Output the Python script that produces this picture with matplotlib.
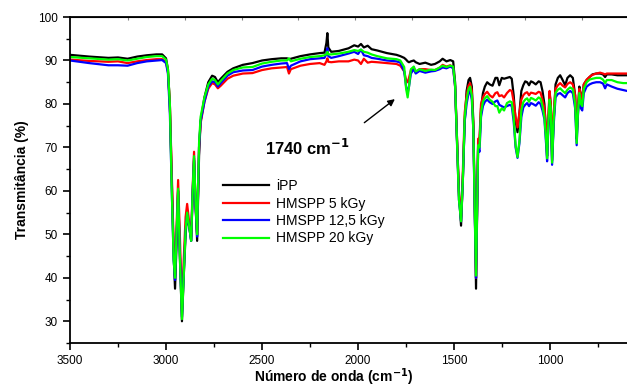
import matplotlib.pyplot as plt

plt.rcParams['font.family'] = ['Liberation Sans', 'DejaVu Sans']

# wavenumber (cm-1) and transmittance (%)
wavenumber = [3500, 3400, 3300, 3250, 3200, 3150, 3100, 3050, 3020, 3000,
              2990, 2980, 2970, 2960, 2953, 2945, 2937, 2928, 2917, 2908,
              2898, 2890, 2880, 2869, 2862, 2854, 2846, 2838, 2828, 2820,
              2800, 2780, 2760, 2745, 2730, 2715, 2680, 2650, 2600, 2550,
              2500, 2450, 2400, 2370, 2360, 2350, 2300, 2250, 2200, 2175,
              2165, 2160, 2155, 2140, 2100, 2050, 2020, 2000, 1985, 1970,
              1950, 1930, 1900, 1850, 1800, 1780, 1760, 1750, 1742, 1735,
              1725, 1710, 1700, 1680, 1650, 1620, 1600, 1575, 1560, 1540,
              1520, 1505, 1495, 1485, 1475, 1464, 1455, 1445, 1435, 1425,
              1417, 1408, 1400, 1392, 1386, 1380, 1375, 1368, 1360, 1350,
              1340, 1328, 1315, 1300, 1285, 1275, 1265, 1252, 1240, 1225,
              1210, 1200, 1190, 1180, 1170, 1160, 1150, 1140, 1130, 1120,
              1110, 1100, 1090, 1075, 1060, 1050, 1040, 1030, 1020, 1016,
              1010, 1003, 997, 990, 982, 972, 960, 948, 935, 922,
              910, 896, 882, 870, 862, 856, 848, 840, 833, 825,
              810, 795, 780, 760, 740, 725, 714, 705, 680, 650,
              620, 600]

ipp = [91.3, 90.9, 90.6, 90.7, 90.4, 90.9, 91.2, 91.4, 91.4, 90.5,
       88.0, 80.0, 62.0, 45.0, 37.5, 48.0, 60.0, 45.0, 30.0, 40.0,
       50.0, 54.5, 52.0, 48.5, 58.0, 67.0, 58.0, 48.5, 68.0, 76.0,
       81.5, 85.0, 86.5, 86.2, 85.0, 85.8, 87.4, 88.2, 89.0, 89.4,
       90.0, 90.3, 90.5, 90.5, 90.3, 90.4, 91.0, 91.4, 91.7, 91.8,
       94.0, 96.3, 93.0, 92.0, 92.2, 92.8, 93.5, 93.2, 93.8, 93.0,
       93.4, 92.6, 92.3, 91.7, 91.3, 91.0, 90.6, 90.2, 89.8, 89.6,
       89.8, 90.0, 89.6, 89.2, 89.5, 89.0, 89.2, 89.8, 90.4, 89.8,
       90.1, 89.8, 85.0, 72.0, 60.0, 52.0, 62.0, 76.0, 83.0, 85.5,
       86.0, 84.0, 76.0, 55.0, 37.5, 55.0, 71.0, 71.0, 79.0, 82.5,
       84.0, 85.0, 84.5, 84.2, 86.0, 86.0, 84.3, 86.0, 85.8, 86.0,
       86.2, 85.8, 82.0, 76.0, 73.5, 78.0, 83.0, 84.3, 85.2, 85.0,
       84.3, 85.2, 85.0, 84.5, 85.2, 85.0, 83.0, 80.0, 72.0, 68.0,
       75.0, 82.5, 80.0, 67.0, 76.0, 84.5, 86.0, 86.6, 85.5, 84.3,
       86.0, 86.6, 86.0, 82.0, 72.0, 78.0, 84.0, 82.0, 81.0, 84.5,
       85.5, 86.2, 86.8, 87.0, 87.0, 86.8, 86.2, 86.8, 86.8, 86.6,
       86.6, 86.6]

hmspp_5 = [90.2, 89.9, 89.7, 89.8, 89.4, 89.8, 90.1, 90.3, 90.3, 89.6,
           87.5, 80.0, 64.0, 47.0, 41.0, 52.0, 62.5, 50.0, 33.0, 44.0,
           54.0, 57.0, 53.0, 49.5, 60.0, 69.0, 56.0, 50.0, 70.0, 75.5,
           80.5, 83.5, 84.8, 84.5, 83.6, 84.2, 85.8, 86.5, 87.0, 87.1,
           87.8, 88.2, 88.4, 88.5, 87.0, 88.0, 88.8, 89.2, 89.4, 89.0,
           89.8, 90.5, 89.7, 89.6, 89.8, 89.8, 90.2, 90.0, 89.2, 90.4,
           89.5, 89.7, 89.6, 89.4, 89.2, 88.8, 87.5, 85.5, 85.0, 86.0,
           87.8, 88.3, 87.3, 88.0, 88.0, 87.8, 87.8, 88.3, 89.0, 88.6,
           88.9, 88.4, 84.0, 72.0, 59.0, 54.0, 64.0, 78.0, 82.0, 84.2,
           84.8, 83.0, 75.0, 55.0, 40.0, 58.0, 72.0, 72.0, 80.0, 81.5,
           82.3, 82.8, 82.0, 81.5, 82.5, 82.7, 81.8, 82.0, 81.5, 82.5,
           83.2, 83.0, 80.5, 77.0, 74.6, 78.0, 81.0, 82.0, 82.5, 82.7,
           82.0, 82.6, 82.5, 82.3, 82.8, 82.6, 81.0, 79.0, 74.0, 70.0,
           77.0, 83.0, 80.0, 69.0, 78.0, 83.5, 84.3, 84.8, 84.2, 83.8,
           84.6, 85.0, 84.5, 82.0, 73.0, 79.0, 83.5, 82.0, 81.0, 84.5,
           85.6, 86.2, 86.7, 87.0, 87.2, 87.0, 86.8, 87.0, 87.0, 87.0,
           87.0, 87.0]

hmspp_12_5 = [90.0, 89.4, 88.9, 88.9, 88.8, 89.4, 89.8, 90.0, 90.1, 89.4,
              87.0, 78.0, 60.0, 44.0, 39.5, 50.0, 60.0, 46.0, 31.0, 41.0,
              51.0, 54.5, 52.0, 48.5, 59.0, 67.5, 56.0, 49.5, 70.0, 76.0,
              80.5, 84.0, 85.2, 85.0, 84.0, 84.8, 86.5, 87.3, 87.7, 87.8,
              88.6, 89.0, 89.3, 89.4, 88.0, 88.8, 89.8, 90.3, 90.5, 90.6,
              91.5, 92.8, 91.0, 90.6, 91.0, 91.6, 92.0, 91.5, 92.5, 91.2,
              91.0, 90.6, 90.4, 90.0, 89.8, 89.5, 87.5, 84.0, 82.5, 84.0,
              87.0, 88.0, 87.0, 87.6, 87.2, 87.5, 87.6, 88.0, 88.4, 88.2,
              88.6, 88.2, 84.0, 71.0, 58.0, 53.0, 62.0, 76.0, 80.0, 82.5,
              83.0, 81.0, 74.0, 53.0, 40.0, 57.0, 70.0, 69.0, 77.0, 79.5,
              80.5, 81.0, 80.4, 80.0, 80.6, 80.8, 79.8, 79.5, 79.2, 79.5,
              79.8, 79.5, 76.0, 70.0, 67.6, 71.0, 77.0, 79.2, 79.8, 80.2,
              79.5, 80.2, 80.0, 79.6, 80.4, 80.0, 78.5, 76.5, 70.0, 66.8,
              74.0, 80.0, 78.0, 66.0, 75.0, 81.5, 82.3, 82.5, 82.0, 81.5,
              82.5, 83.0, 82.5, 79.0, 70.5, 77.0, 82.0, 79.0, 78.5, 82.5,
              84.0, 84.5, 84.8, 85.0, 85.0, 84.7, 83.6, 84.5, 84.0, 83.5,
              83.2, 83.0]

hmspp_20 = [90.8, 90.5, 90.2, 90.3, 90.0, 90.4, 90.8, 91.0, 91.0, 90.2,
            88.0, 80.0, 60.0, 44.0, 40.0, 50.0, 60.5, 45.0, 30.5, 40.0,
            51.0, 55.0, 52.0, 48.5, 59.0, 68.0, 57.0, 50.0, 71.0, 77.0,
            81.5, 84.5, 85.8, 85.5, 84.5, 85.3, 87.0, 87.8, 88.4, 88.5,
            89.3, 89.7, 90.0, 90.0, 90.5, 89.8, 90.4, 90.8, 91.0, 91.2,
            91.5, 92.0, 91.4, 91.4, 91.6, 92.0, 92.4, 92.2, 92.5, 92.0,
            91.8, 91.4, 91.0, 90.5, 90.3, 90.0, 88.5, 83.5, 81.5, 84.0,
            88.0, 88.6, 87.5, 88.0, 87.6, 87.9, 87.8, 88.4, 88.8, 88.5,
            88.8, 88.6, 84.5, 71.5, 58.0, 53.0, 62.0, 77.0, 81.0, 83.4,
            84.0, 82.0, 74.0, 54.0, 40.5, 57.0, 70.5, 70.0, 78.0, 80.5,
            81.3, 81.8, 81.0, 80.5, 79.5, 79.5, 78.0, 79.0, 78.5, 80.2,
            80.6, 80.4, 77.0, 70.5, 67.8, 71.5, 78.5, 80.4, 81.0, 81.3,
            80.5, 81.4, 81.2, 80.8, 81.5, 81.2, 79.5, 77.0, 71.0, 67.5,
            75.0, 81.0, 79.0, 66.5, 76.0, 82.5, 83.3, 83.6, 83.0, 82.5,
            83.3, 83.8, 83.4, 80.0, 71.0, 77.5, 82.5, 80.0, 79.5, 83.5,
            85.0, 85.6, 85.8, 86.0, 86.0, 85.6, 84.8, 85.5, 85.5, 85.0,
            84.8, 84.8]

top_ticks = [3198, 2901, 2604, 2313, 2016, 1719, 1427, 1130, 833]

fig = plt.figure(figsize=(6.27, 3.87), dpi=100)
ax = fig.add_axes([0.1116, 0.1137, 0.8884, 0.8423])

ax.plot(wavenumber, ipp, color='black', lw=1.6, label='iPP')
ax.plot(wavenumber, hmspp_5, color='#ff0000', lw=1.6, label='HMSPP 5 kGy')
ax.plot(wavenumber, hmspp_12_5, color='#0000ff', lw=1.6, label='HMSPP 12,5 kGy')
ax.plot(wavenumber, hmspp_20, color='#00ff00', lw=1.6, label='HMSPP 20 kGy')

ax.set_xlim(3500, 600)
ax.set_ylim(25, 100)
ax.set_xticks([3500, 3000, 2500, 2000, 1500, 1000])
ax.set_xticks([3250, 2750, 2250, 1750, 1250, 750], minor=True)
ax.set_yticks([30, 40, 50, 60, 70, 80, 90, 100])
ax.set_yticks([25, 35, 45, 55, 65, 75, 85, 95], minor=True)
ax.tick_params(which='major', length=5, width=1.2, labelsize=8.5, pad=4)
ax.tick_params(which='minor', length=3, width=1.0)
for s in ['left', 'bottom', 'top']:
    ax.spines[s].set_linewidth(1.3)
ax.spines['right'].set_visible(False)

secax = ax.secondary_xaxis('top')
secax.set_xticks(top_ticks)
secax.tick_params(direction='in', length=2, width=0.8, color='0.5', labeltop=False)

ax.set_xlabel(r'Número de onda (cm$^{\mathbf{-1}}$)', fontsize=10, fontweight='bold')
ax.xaxis.set_label_coords(0.474, -0.072)
ax.set_ylabel('Transmitância (%)', fontsize=10, fontweight='bold', labelpad=6)

ax.text(2484, 68.2, r'1740 cm$^{\mathbf{-1}}$', fontsize=12, fontweight='bold',
        ha='left', va='baseline')
ax.annotate('', xy=(1797, 81.5), xytext=(1979, 75.3),
            arrowprops=dict(arrowstyle='-|>', color='black', lw=1.0, mutation_scale=10))

ax.legend(loc='upper left', bbox_to_anchor=(0.265, 0.52), frameon=False, fontsize=10,
          handlelength=3.3, handletextpad=0.5, labelspacing=0.25, borderaxespad=0)

fig.savefig('out.png', dpi=100)
